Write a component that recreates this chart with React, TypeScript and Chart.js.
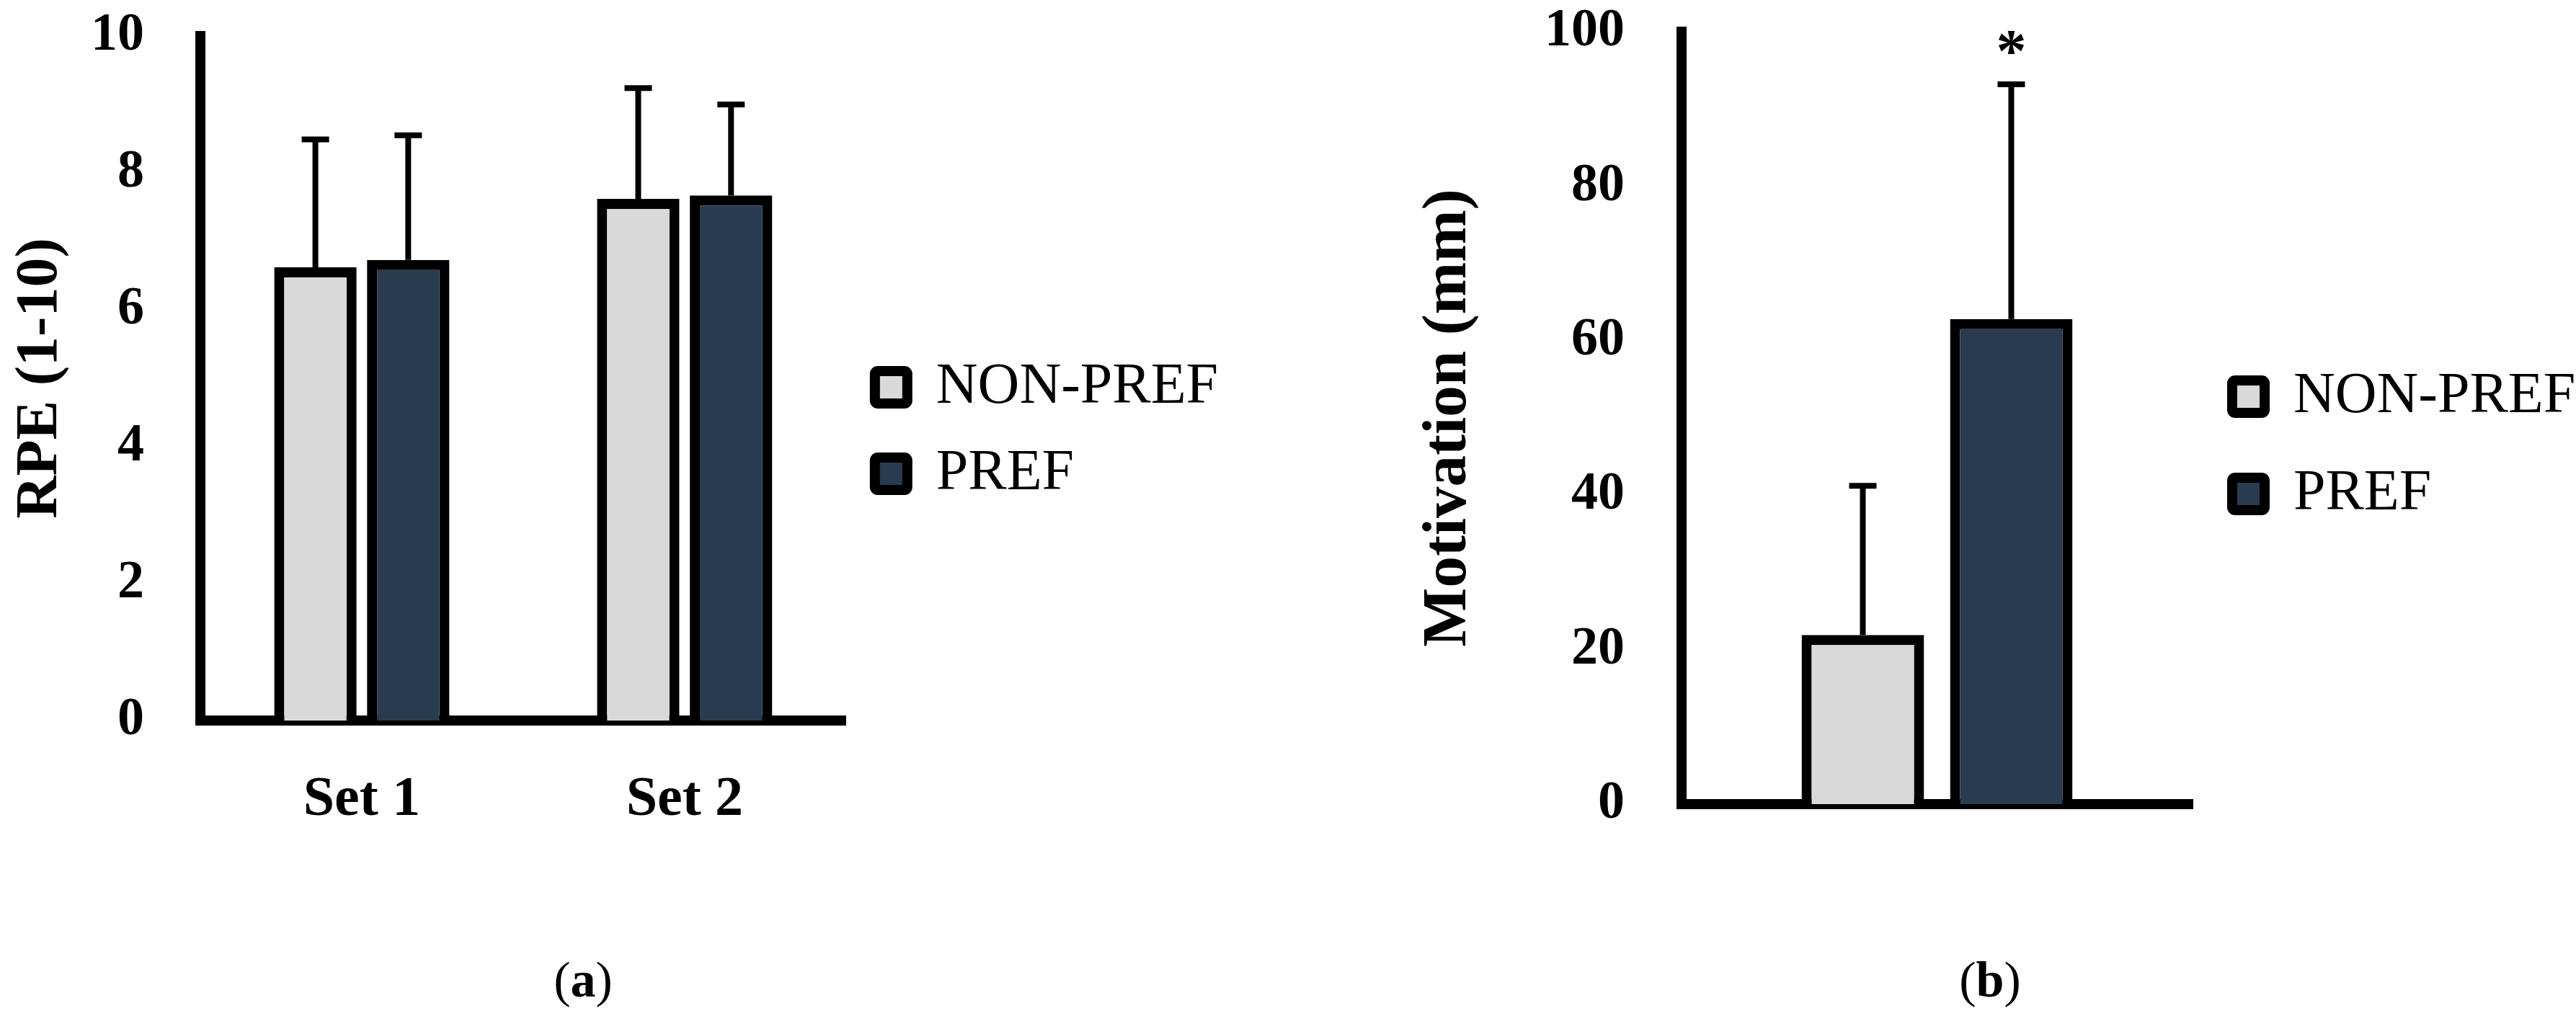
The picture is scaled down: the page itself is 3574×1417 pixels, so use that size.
import React, { useEffect, useRef } from "react";
import { Chart, registerables } from "chart.js";

Chart.register(...registerables);

const FONT = "'Liberation Serif', 'Times New Roman', serif";
Chart.defaults.font.family = FONT;
Chart.defaults.color = "#000";

// ---- shared series ----
const seriesLabels = ["NON-PREF", "PREF"];
const seriesColors = ["#D9D9D9", "#293B50"];

// ---- panel (a): RPE ----
const rpeCategories = ["Set 1", "Set 2"];
const rpeNonPref = [6.62, 7.62];
const rpeNonPrefSD = [1.87, 1.62];
const rpePref = [6.73, 7.67];
const rpePrefSD = [1.82, 1.33];
const rpeAxisMin = 0;
const rpeAxisMax = 10;
const rpeAxisStep = 2;

// ---- panel (b): Motivation ----
const motCategories = [""];
const motNonPref = [21.9];
const motNonPrefSD = [19.3];
const motPref = [62.8];
const motPrefSD = [30.4];
const motNonPrefMarks = [""];
const motPrefMarks = ["*"];
const motAxisMin = 0;
const motAxisMax = 100;
const motAxisStep = 20;

const errorBarPlugin = {
  id: "errorBars",
  afterDatasetsDraw(chart: any) {
    const { ctx } = chart;
    const yScale = chart.scales.y;
    chart.data.datasets.forEach((ds: any, di: number) => {
      const meta = chart.getDatasetMeta(di);
      meta.data.forEach((bar: any, i: number) => {
        const v = ds.data[i];
        const sd = ds.errors ? ds.errors[i] : 0;
        const base = yScale.getPixelForValue(v);
        const top = yScale.getPixelForValue(v + sd);
        ctx.save();
        ctx.strokeStyle = "#000";
        ctx.lineWidth = 8;
        ctx.lineCap = "butt";
        ctx.beginPath();
        ctx.moveTo(bar.x, base);
        ctx.lineTo(bar.x, top);
        ctx.moveTo(bar.x - 19, top);
        ctx.lineTo(bar.x + 19, top);
        ctx.stroke();
        const mark = ds.marks ? ds.marks[i] : "";
        if (mark) {
          ctx.fillStyle = "#000";
          ctx.font = `bold 84px ${FONT}`;
          ctx.textAlign = "center";
          ctx.textBaseline = "alphabetic";
          ctx.fillText(mark, bar.x, top - 18);
        }
        ctx.restore();
      });
    });
  },
};

function axisBorder() {
  return { display: true, color: "#000", width: 14 };
}

function fixY(width: number) {
  return (s: any) => {
    s.width = width;
    s.paddingTop = 0;
    s.paddingBottom = 0;
  };
}

function fixX(height: number) {
  return (s: any) => {
    s.height = height;
    s.paddingLeft = 0;
    s.paddingRight = 0;
  };
}

function barDataset(label: string, color: string, data: number[], errors: number[], marks: string[] | null, catPct: number, barPct: number) {
  return {
    label,
    data,
    errors,
    marks,
    backgroundColor: color,
    borderColor: "#000",
    borderWidth: 14,
    borderSkipped: "start",
    categoryPercentage: catPct,
    barPercentage: barPct,
  };
}

function makeLeftConfig(): any {
  return {
    type: "bar",
    data: {
      labels: rpeCategories,
      datasets: [
        barDataset(seriesLabels[0], seriesColors[0], rpeNonPref, rpeNonPrefSD, null, 0.575, 0.888),
        barDataset(seriesLabels[1], seriesColors[1], rpePref, rpePrefSD, null, 0.575, 0.888),
      ],
    },
    options: {
      responsive: false,
      animation: false,
      devicePixelRatio: 1,
      layout: { padding: { top: 50, right: 60, left: 0, bottom: 0 } },
      scales: {
        x: {
          grid: { display: false, drawTicks: false },
          border: axisBorder(),
          ticks: { font: { size: 78, weight: "bold" }, color: "#000", padding: 64 },
          afterFit: fixX(145),
        },
        y: {
          min: rpeAxisMin,
          max: rpeAxisMax,
          grid: { display: false, drawTicks: false },
          border: axisBorder(),
          ticks: { stepSize: rpeAxisStep, font: { size: 74, weight: "bold" }, color: "#000", padding: 78 },
          title: {
            display: true,
            text: "RPE (1-10)",
            font: { size: 82, weight: "bold" },
            color: "#000",
            padding: { top: 8, bottom: 0 },
          },
          afterFit: fixY(278),
        },
      },
      plugins: {
        legend: {
          position: "right",
          maxWidth: 552,
          labels: {
            boxWidth: 45,
            boxHeight: 45,
            padding: 40,
            font: { size: 80 },
            color: "#000",
            useBorderRadius: true,
            borderRadius: 4,
          },
        },
        tooltip: { enabled: false },
      },
    },
    plugins: [errorBarPlugin],
  };
}

function makeRightConfig(): any {
  return {
    type: "bar",
    data: {
      labels: motCategories,
      datasets: [
        barDataset(seriesLabels[0], seriesColors[0], motNonPref, motNonPrefSD, motNonPrefMarks, 0.581, 0.825),
        barDataset(seriesLabels[1], seriesColors[1], motPref, motPrefSD, motPrefMarks, 0.581, 0.825),
      ],
    },
    options: {
      responsive: false,
      animation: false,
      devicePixelRatio: 1,
      layout: { padding: { top: 44, right: 0, left: 0, bottom: 0 } },
      scales: {
        x: {
          grid: { display: false, drawTicks: false },
          border: axisBorder(),
          ticks: { display: false },
          afterFit: fixX(76),
        },
        y: {
          min: motAxisMin,
          max: motAxisMax,
          grid: { display: false, drawTicks: false },
          border: axisBorder(),
          ticks: { stepSize: motAxisStep, font: { size: 74, weight: "bold" }, color: "#000", padding: 79 },
          title: {
            display: true,
            text: "Motivation (mm)",
            font: { size: 87, weight: "bold" },
            color: "#000",
            padding: { top: 8, bottom: 0 },
          },
          afterFit: fixY(383),
        },
      },
      plugins: {
        legend: {
          position: "right",
          maxWidth: 532,
          labels: {
            boxWidth: 45,
            boxHeight: 45,
            padding: 55,
            font: { size: 80 },
            color: "#000",
            useBorderRadius: true,
            borderRadius: 4,
          },
        },
        tooltip: { enabled: false },
      },
    },
    plugins: [errorBarPlugin],
  };
}

function Panel(props: { make: () => any; left: number; top: number; width: number; height: number }) {
  const ref = useRef<HTMLCanvasElement>(null);
  useEffect(() => {
    const chart = new Chart(ref.current as HTMLCanvasElement, props.make());
    return () => chart.destroy();
  }, []);
  return (
    <canvas
      ref={ref}
      width={props.width}
      height={props.height}
      style={{ position: "absolute", left: props.left, top: props.top, width: props.width, height: props.height }}
    />
  );
}

function Caption(props: { letter: string; x: number; y: number }) {
  return (
    <div
      style={{
        position: "absolute",
        left: props.x,
        top: props.y,
        transform: "translate(-50%, -50%)",
        fontFamily: FONT,
        fontSize: 70,
        lineHeight: 1,
        color: "#000",
        whiteSpace: "nowrap",
      }}
    >
      (<b>{props.letter}</b>)
    </div>
  );
}

export default function App() {
  return (
    <div
      style={{
        position: "absolute",
        left: 0,
        top: 0,
        width: 3574,
        height: 1417,
        overflow: "hidden",
        background: "#fff",
      }}
    >
      <Panel make={makeLeftConfig} left={0} top={0} width={1760} height={1145} />
      <Panel make={makeRightConfig} left={1950} top={0} width={1624} height={1192} />
      <Caption letter="a" x={809} y={1360} />
      <Caption letter="b" x={2761} y={1360} />
    </div>
  );
}
